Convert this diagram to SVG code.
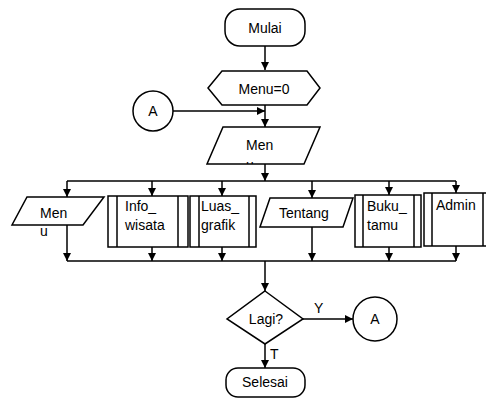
<svg xmlns="http://www.w3.org/2000/svg" width="486" height="406" viewBox="0 0 486 406">
<style>
.s{fill:#fff;stroke:#000;stroke-width:1.5}
.l{fill:none;stroke:#000;stroke-width:1.5}
.t{font-family:"Liberation Sans",Arial,sans-serif;font-size:14px;fill:#000}
.m{text-anchor:middle}
</style>
<defs>
<marker id="ah" viewBox="0 0 10 10" refX="10" refY="5" markerWidth="8" markerHeight="8" markerUnits="userSpaceOnUse" orient="auto"><path d="M0,0L10,5L0,10z" fill="#000"/></marker>
<clipPath id="cm"><rect x="200" y="120" width="130" height="44"/></clipPath>
</defs>
<rect width="486" height="406" fill="#fff"/>
<g id="connectors">
<line class="l" x1="265" y1="46" x2="265" y2="70" marker-end="url(#ah)"/>
<line class="l" x1="265" y1="105" x2="265" y2="127" marker-end="url(#ah)"/>
<line class="l" x1="173" y1="111" x2="265" y2="111" marker-end="url(#ah)"/>
<line class="l" x1="265" y1="164" x2="265" y2="181" marker-end="url(#ah)"/>
<line class="l" x1="67" y1="181" x2="456" y2="181"/>
<line class="l" x1="67" y1="181" x2="67" y2="197" marker-end="url(#ah)"/>
<line class="l" x1="152" y1="181" x2="152" y2="196" marker-end="url(#ah)"/>
<line class="l" x1="222" y1="181" x2="222" y2="196" marker-end="url(#ah)"/>
<line class="l" x1="312" y1="181" x2="312" y2="198" marker-end="url(#ah)"/>
<line class="l" x1="389" y1="181" x2="389" y2="195" marker-end="url(#ah)"/>
<line class="l" x1="456" y1="181" x2="456" y2="193" marker-end="url(#ah)"/>
<line class="l" x1="67" y1="225" x2="67" y2="261" marker-end="url(#ah)"/>
<line class="l" x1="152" y1="247" x2="152" y2="261" marker-end="url(#ah)"/>
<line class="l" x1="222" y1="247" x2="222" y2="261" marker-end="url(#ah)"/>
<line class="l" x1="312" y1="227" x2="312" y2="261" marker-end="url(#ah)"/>
<line class="l" x1="389" y1="247" x2="389" y2="261" marker-end="url(#ah)"/>
<line class="l" x1="456" y1="246" x2="456" y2="261" marker-end="url(#ah)"/>
<line class="l" x1="67" y1="261" x2="456" y2="261"/>
<line class="l" x1="265" y1="261" x2="265" y2="291" marker-end="url(#ah)"/>
<line class="l" x1="303" y1="319" x2="353" y2="319" marker-end="url(#ah)"/>
<line class="l" x1="265" y1="344" x2="265" y2="368" marker-end="url(#ah)"/>
<text class="t" x="314" y="313">Y</text>
<text class="t" x="270" y="359">T</text>
</g>
<g id="mulai"><rect class="s" x="225" y="9" width="80" height="37" rx="15"/><text class="t m" x="265" y="33">Mulai</text></g>
<g id="menu0"><polygon class="s" points="208,88 222,71 307,71 320,88 307,105 222,105"/><text class="t m" x="264" y="94">Menu=0</text></g>
<g id="connA1"><circle class="s" cx="153" cy="111" r="20"/><text class="t m" x="153" y="116">A</text></g>
<g id="menu"><polygon class="s" points="223,127 320,127 304,164 207,164"/><text class="t" x="246" y="150">Men</text><text class="t" x="246" y="170" clip-path="url(#cm)">u</text></g>
<g id="menu2"><polygon class="s" points="27,197 104,197 83,225 12,225"/><text class="t" x="40" y="218">Men</text><text class="t" x="40" y="236">u</text></g>
<g id="info"><rect class="s" x="108" y="196" width="80" height="51"/><line class="l" x1="117" y1="196" x2="117" y2="247"/><line class="l" x1="178" y1="196" x2="178" y2="247"/><text class="t" x="125" y="211">Info_</text><text class="t" x="125" y="230">wisata</text></g>
<g id="luas"><rect class="s" x="190" y="196" width="66" height="51"/><line class="l" x1="199" y1="196" x2="199" y2="247"/><line class="l" x1="249" y1="196" x2="249" y2="247"/><text class="t" x="201" y="211">Luas_</text><text class="t" x="201" y="230">grafik</text></g>
<g id="tentang"><polygon class="s" points="270,198 353,198 343,227 260,227"/><text class="t" x="279" y="218">Tentang</text></g>
<g id="buku"><rect class="s" x="355" y="195" width="66" height="52"/><line class="l" x1="363" y1="195" x2="363" y2="247"/><line class="l" x1="414" y1="195" x2="414" y2="247"/><text class="t" x="367" y="211">Buku_</text><text class="t" x="367" y="230">tamu</text></g>
<g id="admin"><rect class="s" x="424" y="193" width="70" height="53"/><line class="l" x1="432" y1="193" x2="432" y2="246"/><line class="l" x1="483" y1="193" x2="483" y2="246"/><text class="t" x="436" y="210">Admin</text></g>
<g id="lagi"><polygon class="s" points="265,291 303,319 265,344 227,319"/><text class="t m" x="266" y="324">Lagi?</text></g>
<g id="connA2"><circle class="s" cx="375" cy="319" r="22"/><text class="t m" x="375" y="324">A</text></g>
<g id="selesai"><rect class="s" x="226" y="368" width="79" height="29" rx="12"/><text class="t m" x="265" y="387">Selesai</text></g>
</svg>
